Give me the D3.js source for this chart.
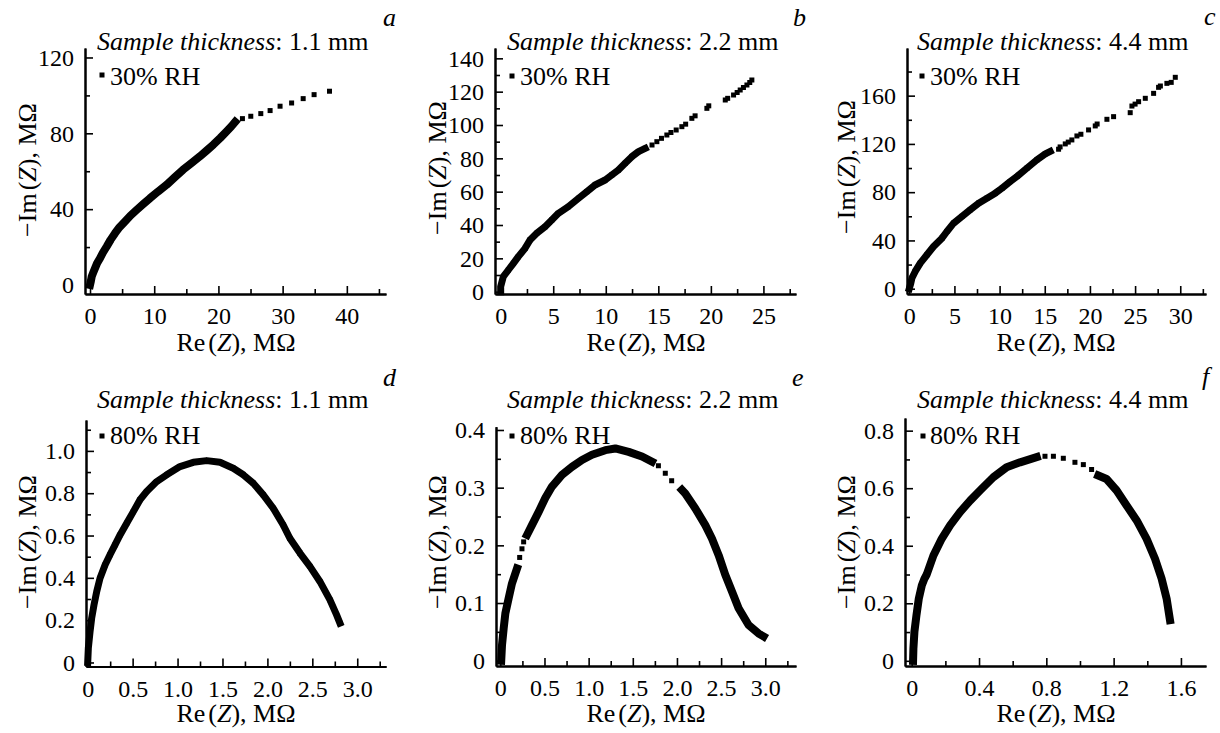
<!DOCTYPE html>
<html>
<head>
<meta charset="utf-8">
<script src="https://cdn.jsdelivr.net/npm/d3@7"></script>
<style>
  body { margin: 0; background: #fff; }
  svg { display: block; font-family: "Liberation Serif", "Times New Roman", serif; }
  .domain { stroke: #000; stroke-width: 2; }
  .tick line { stroke: #000; stroke-width: 1.6; }
  .tick text { font-size: 24px; font-family: "Liberation Serif", "Times New Roman", serif; fill: #000; }
</style>
</head>
<body>
<svg width="1220" height="733"></svg>
<script>
// ---- data: [Re(Z), -Im(Z)] in MOhm ----
// dense runs (drawn as a band of markers) and separate markers

const aBand = [[
  [0, 0], [0.1, 1.5], [0.26, 4.4], [0.5, 6.5], [0.78, 8.8], [1.1, 11.5], [1.56, 14.1],
  [2.0, 17.0], [2.6, 20.3], [3.2, 23.8], [3.9, 27.3], [4.6, 30.5], [5.45, 33.5],
  [6.3, 36.6], [7.27, 39.6], [8.3, 42.7], [9.35, 45.8], [10.6, 49.3], [11.95, 52.9],
  [13.2, 56.8], [14.5, 60.8], [15.8, 64.3], [17.1, 67.8], [18.2, 71.0], [19.2, 74.0],
  [20.3, 77.6], [21.3, 81.1], [22.0, 83.6], [22.6, 86.0]
]];
const aDots = [
  [23.74, 87.75], [25.04, 89.0], [26.6, 90.4], [28.05, 92.0], [29.6, 94.3],
  [31.4, 96.0], [33.2, 98.3], [34.9, 100.4], [37.3, 102.2]
];

const bBand = [[
  [0, 0], [0, 3], [0.25, 9], [0.73, 13], [1.21, 17], [1.68, 21], [2.32, 26], [2.79, 31],
  [3.43, 35], [4.22, 39], [4.86, 43], [5.49, 47], [6.44, 51], [7.4, 56], [8.19, 60],
  [8.98, 64], [9.94, 67], [10.57, 70], [11.2, 73], [11.84, 77], [12.48, 81],
  [13.11, 84], [13.75, 86]
]];
const bDots = [
  [14.4, 88], [14.86, 90], [15.3, 92], [15.81, 94], [16.2, 95.5], [16.7, 97],
  [17.24, 99], [17.6, 100.5], [18.19, 104], [18.5, 105.5], [19.62, 110], [19.8, 111.5],
  [21.37, 115], [21.6, 116], [22.16, 118], [22.5, 119.5], [22.79, 121], [23.1, 122.5],
  [23.43, 124], [23.7, 125.5], [23.9, 127]
];

const cBand = [[
  [0, 0], [0.15, 4], [0.3, 8.8], [0.66, 14.3], [1.22, 21.2], [1.96, 28.1], [2.69, 35.0],
  [3.62, 41.9], [4.17, 47.4], [4.91, 54.3], [5.83, 59.9], [6.75, 65.4], [7.68, 70.9],
  [8.6, 75.0], [9.52, 79.2], [10.26, 83.3], [11.18, 88.8], [11.92, 93.0], [13.03, 99.9],
  [14.13, 106.8], [15.06, 111.7], [15.6, 113.7]
]];
const cDots = [
  [16.53, 115.6], [16.7, 117.5], [17.27, 120], [17.6, 121.5], [18.0, 123.3],
  [18.56, 126.6], [19.0, 128], [19.85, 131.6], [20.59, 134.9], [20.8, 136.5],
  [21.88, 140.4], [22.62, 142.6], [24.46, 145.9], [24.65, 151.4], [25.0, 153],
  [25.39, 155], [26.13, 157.8], [27.05, 161.9], [27.6, 166.9], [27.8, 168],
  [28.52, 170.2], [29.0, 171], [29.45, 175.2]
];

const dBand = [[
  [0, 0], [0.007, 0.068], [0.026, 0.146], [0.044, 0.209], [0.07, 0.272], [0.1, 0.335],
  [0.137, 0.398], [0.193, 0.461], [0.248, 0.509], [0.304, 0.556], [0.36, 0.603],
  [0.434, 0.658], [0.508, 0.713], [0.582, 0.769], [0.656, 0.808], [0.768, 0.855],
  [0.879, 0.887], [1.027, 0.926], [1.175, 0.946], [1.324, 0.954], [1.472, 0.946],
  [1.62, 0.918], [1.732, 0.887], [1.843, 0.847], [1.954, 0.792], [2.065, 0.729],
  [2.176, 0.65], [2.25, 0.587], [2.362, 0.517], [2.473, 0.454], [2.584, 0.383],
  [2.696, 0.296], [2.77, 0.225], [2.807, 0.186]
]];
const dDots = [];

const eBand = [[
  [0.01, 0], [0.019, 0.027], [0.038, 0.056], [0.057, 0.082], [0.094, 0.108],
  [0.132, 0.134], [0.189, 0.160]
], [
  [0.302, 0.218], [0.358, 0.235], [0.434, 0.258], [0.509, 0.282], [0.585, 0.302],
  [0.698, 0.322], [0.811, 0.336], [0.925, 0.348], [1.038, 0.357], [1.189, 0.365],
  [1.302, 0.368], [1.453, 0.362], [1.604, 0.354], [1.717, 0.345]
], [
  [2.057, 0.296], [2.094, 0.290], [2.208, 0.264], [2.321, 0.235], [2.396, 0.212],
  [2.472, 0.183], [2.547, 0.149], [2.623, 0.120], [2.698, 0.091], [2.811, 0.062],
  [2.925, 0.047], [2.981, 0.042]
]];
const eDots = [
  [0.219, 0.179], [0.245, 0.194], [0.264, 0.206],
  [1.79, 0.338], [1.868, 0.325], [1.94, 0.312]
];

const fBand = [[
  [0.008, 0], [0.01, 0.043], [0.016, 0.101], [0.028, 0.158], [0.042, 0.216], [0.06, 0.262],
  [0.075, 0.285], [0.089, 0.300], [0.129, 0.366], [0.178, 0.424], [0.228, 0.471], [0.287, 0.517],
  [0.347, 0.557], [0.416, 0.598], [0.485, 0.638], [0.564, 0.673], [0.644, 0.690],
  [0.743, 0.708]
], [
  [1.109, 0.644], [1.158, 0.632], [1.218, 0.592], [1.277, 0.540], [1.337, 0.488],
  [1.396, 0.424], [1.446, 0.355], [1.485, 0.286], [1.515, 0.216], [1.535, 0.141]
]];
const fDots = [
  [0.792, 0.711], [0.842, 0.711], [0.901, 0.704], [0.97, 0.69], [1.02, 0.682], [1.069, 0.665]
];

// ---- ticks ----
const aXMajor = [0, 10, 20, 30, 40], aXMinor = [5, 15, 25, 35, 45];
const aYMajor = [0, 40, 80, 120], aYMinor = [20, 60, 100];
const bXMajor = [0, 5, 10, 15, 20, 25], bXMinor = [2.5, 7.5, 12.5, 17.5, 22.5, 27.5];
const bYMajor = [0, 20, 40, 60, 80, 100, 120, 140], bYMinor = [10, 30, 50, 70, 90, 110, 130];
const cXMajor = [0, 5, 10, 15, 20, 25, 30], cXMinor = [2.5, 7.5, 12.5, 17.5, 22.5, 27.5, 32.5];
const cYMajor = [0, 40, 80, 120, 160], cYMinor = [20, 60, 100, 140, 180];
const dXMajor = [0, 0.5, 1.0, 1.5, 2.0, 2.5, 3.0], dXMinor = [0.25, 0.75, 1.25, 1.75, 2.25, 2.75, 3.25];
const dYMajor = [0, 0.2, 0.4, 0.6, 0.8, 1.0], dYMinor = [0.1, 0.3, 0.5, 0.7, 0.9, 1.1];
const eXMajor = [0, 0.5, 1.0, 1.5, 2.0, 2.5, 3.0], eXMinor = [0.25, 0.75, 1.25, 1.75, 2.25, 2.75, 3.25];
const eYMajor = [0, 0.1, 0.2, 0.3, 0.4], eYMinor = [0.05, 0.15, 0.25, 0.35];
const fXMajor = [0, 0.4, 0.8, 1.2, 1.6], fXMinor = [0.2, 0.6, 1.0, 1.4];
const fYMajor = [0, 0.2, 0.4, 0.6, 0.8], fYMinor = [0.1, 0.3, 0.5, 0.7];

const thickness = ["1.1 mm", "2.2 mm", "4.4 mm", "1.1 mm", "2.2 mm", "4.4 mm"];
const humidity = ["30% RH", "30% RH", "30% RH", "80% RH", "80% RH", "80% RH"];
const letters = ["a", "b", "c", "d", "e", "f"];

const fmtInt = d => d;
const fmtDec = d => d === 0 ? "0" : d.toFixed(1);

// ---- layout of each panel (pixels) ----
const panels = [
  { band: aBand, dots: aDots, xMaj: aXMajor, xMin: aXMinor, yMaj: aYMajor, yMin: aYMinor, fx: fmtInt, fy: fmtInt,
    xd: [-0.78, 46.1], xr: [85, 386], yd: [-4.75, 125], yr: [294, 48], bw: 8,
    title: [97, 50], leg: [102, 75, 110, 85], letter: [383, 26], ylab: [36, 170], xlab: [236, 351] },
  { band: bBand, dots: bDots, xMaj: bXMajor, xMin: bXMinor, yMaj: bYMajor, yMin: bYMinor, fx: fmtInt, fy: fmtInt,
    xd: [-0.54, 28.1], xr: [495, 796], yd: [-1.4, 146.2], yr: [294, 48], bw: 7,
    title: [507, 50], leg: [512, 76, 520, 85], letter: [793, 26], ylab: [446, 168], xlab: [646, 351] },
  { band: cBand, dots: cDots, xMaj: cXMajor, xMin: cXMinor, yMaj: cYMajor, yMin: cYMinor, fx: fmtInt, fy: fmtInt,
    xd: [-0.25, 32.85], xr: [907, 1206], yd: [-4.4, 199.5], yr: [294, 48], bw: 7,
    title: [917, 50], leg: [922, 76, 930, 85], letter: [1204, 25], ylab: [855, 167], xlab: [1056, 351] },
  { band: dBand, dots: dDots, xMaj: dXMajor, xMin: dXMinor, yMaj: dYMajor, yMin: dYMinor, fx: fmtDec, fy: fmtDec,
    xd: [-0.019, 3.32], xr: [86, 386], yd: [-0.019, 1.146], yr: [666.5, 420], bw: 7,
    title: [97, 408], leg: [102, 436, 110, 444], letter: [383, 386], ylab: [36, 542], xlab: [236, 722] },
  { band: eBand, dots: eDots, xMaj: eXMajor, xMin: eXMinor, yMaj: eYMajor, yMin: eYMinor, fx: fmtDec, fy: fmtDec,
    xd: [-0.049, 3.348], xr: [496, 796], yd: [-0.0092, 0.4057], yr: [666, 426.7], bw: 8,
    title: [507, 408], leg: [512, 436, 520, 444], letter: [792, 386], ylab: [446, 542], xlab: [646, 722] },
  { band: fBand, dots: fDots, xMaj: fXMajor, xMin: fXMinor, yMaj: fYMajor, yMin: fYMinor, fx: fmtDec, fy: fmtDec,
    xd: [-0.04, 1.749], xr: [905, 1206], yd: [-0.018, 0.844], yr: [666, 418], bw: 8,
    title: [917, 408], leg: [923, 436, 930, 444], letter: [1202, 385], ylab: [855, 542], xlab: [1056, 722] }
];

const svg = d3.select("svg");
const size = 5;

panels.forEach((p, i) => {
  const x = d3.scaleLinear().domain(p.xd).range(p.xr);
  const y = d3.scaleLinear().domain(p.yd).range(p.yr);
  const g = svg.append("g");

  // minor ticks then major ticks, all pointing inwards
  g.append("g")
    .attr("transform", "translate(0," + p.yr[0] + ")")
    .call(d3.axisBottom(x).tickValues(p.xMin).tickSize(-5).tickSizeOuter(0).tickFormat(""));
  g.append("g")
    .attr("transform", "translate(0," + p.yr[0] + ")")
    .call(d3.axisBottom(x).tickValues(p.xMaj).tickSize(-8).tickSizeOuter(0).tickPadding(13).tickFormat(p.fx));
  g.append("g")
    .attr("transform", "translate(" + p.xr[0] + ",0)")
    .call(d3.axisLeft(y).tickValues(p.yMin).tickSize(-5).tickSizeOuter(0).tickFormat(""));
  g.append("g")
    .attr("transform", "translate(" + p.xr[0] + ",0)")
    .call(d3.axisLeft(y).tickValues(p.yMaj).tickSize(-8).tickSizeOuter(0).tickPadding(11).tickFormat(p.fy));

  // dense runs: thick band through the points
  const line = d3.line().x(d => x(d[0])).y(d => y(d[1]));
  g.selectAll(".band")
    .data(p.band)
    .enter()
    .append("path")
    .attr("d", line)
    .attr("fill", "none")
    .attr("stroke", "#000")
    .attr("stroke-width", p.bw)
    .attr("stroke-linejoin", "round")
    .attr("stroke-linecap", "square");

  // square markers
  const pts = p.band.flat().concat(p.dots);
  g.selectAll(".pt")
    .data(pts)
    .enter()
    .append("rect")
    .attr("x", d => x(d[0]) - size / 2)
    .attr("y", d => y(d[1]) - size / 2)
    .attr("width", size)
    .attr("height", size)
    .attr("fill", "#000");

  // title
  const t = g.append("text")
    .attr("x", p.title[0]).attr("y", p.title[1])
    .attr("font-size", 26);
  t.append("tspan").attr("font-style", "italic").text("Sample thickness");
  t.append("tspan").text(": " + thickness[i]);

  // legend
  g.append("rect")
    .attr("x", p.leg[0] - 2.5).attr("y", p.leg[1] - 2.5)
    .attr("width", 5).attr("height", 5);
  g.append("text")
    .attr("x", p.leg[2]).attr("y", p.leg[3])
    .attr("font-size", 26)
    .text(humidity[i]);

  // panel letter
  g.append("text")
    .attr("x", p.letter[0]).attr("y", p.letter[1])
    .attr("font-size", 26).attr("font-style", "italic")
    .text(letters[i]);

  // y axis label
  const yl = g.append("text")
    .attr("transform", "translate(" + p.ylab[0] + "," + p.ylab[1] + ") rotate(-90)")
    .attr("text-anchor", "middle")
    .attr("font-size", 26);
  yl.append("tspan").text("\u2212Im");
  yl.append("tspan").attr("dx", 3).text("(");
  yl.append("tspan").attr("font-style", "italic").text("Z");
  yl.append("tspan").text("), M\u03A9");

  // x axis label
  const xl = g.append("text")
    .attr("x", p.xlab[0]).attr("y", p.xlab[1])
    .attr("text-anchor", "middle")
    .attr("font-size", 26);
  xl.append("tspan").text("Re");
  xl.append("tspan").attr("dx", 3).text("(");
  xl.append("tspan").attr("font-style", "italic").text("Z");
  xl.append("tspan").text("), M\u03A9");
});
</script>
</body>
</html>
